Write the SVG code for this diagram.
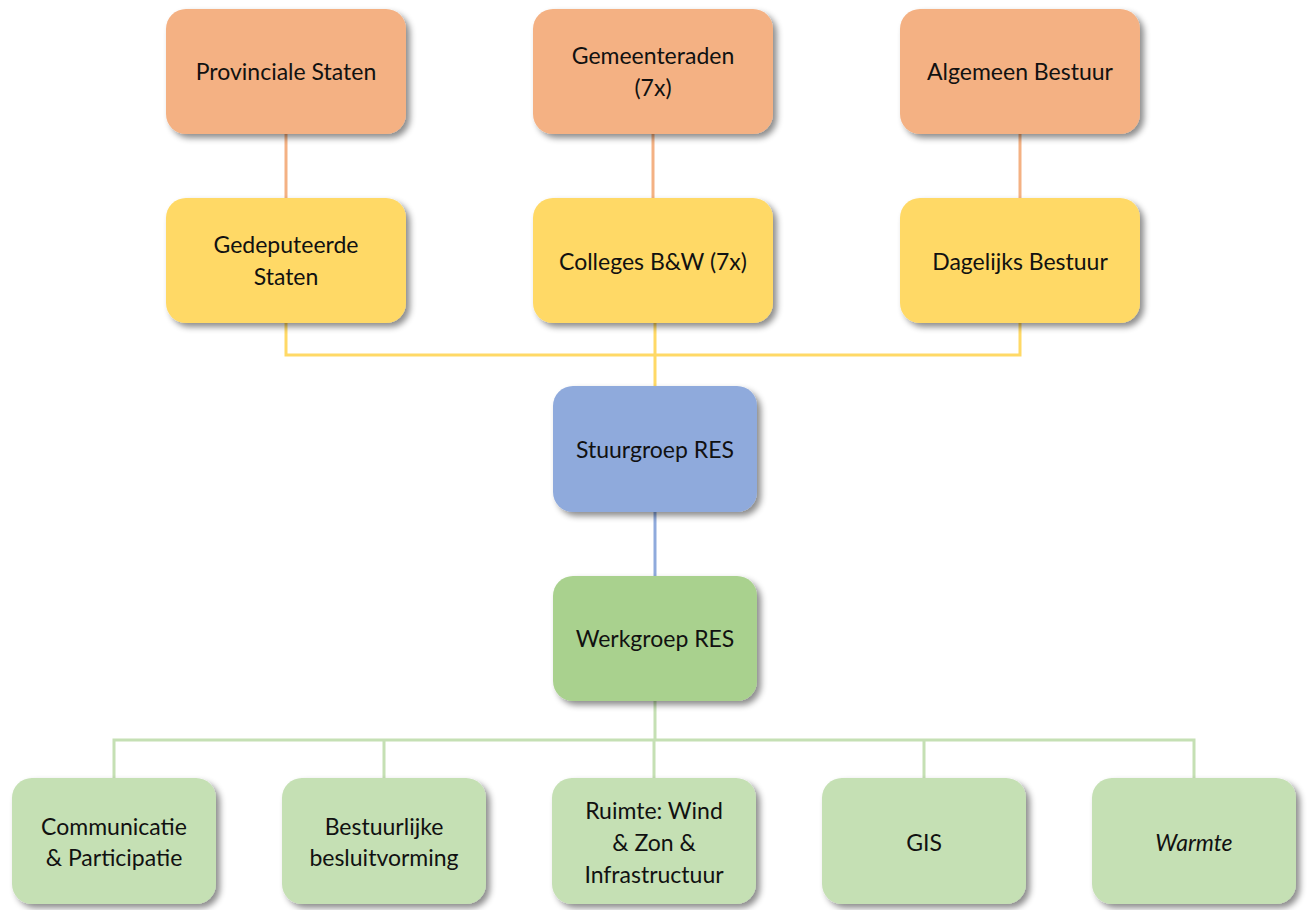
<svg xmlns="http://www.w3.org/2000/svg" width="1313" height="910" viewBox="0 0 1313 910">
<defs>
<filter id="sh" x="-10%" y="-10%" width="130%" height="140%">
<feDropShadow dx="4" dy="4" stdDeviation="3" flood-color="#000" flood-opacity="0.45"/>
</filter>
<style>
.box{filter:url(#sh)}
.o{fill:#F4B183}.y{fill:#FFD966}.b{fill:#8FAADC}.g{fill:#A9D18E}.lg{fill:#C5E0B4}
text{font-family:Lato,"Open Sans","Liberation Sans",sans-serif;font-size:23px;fill:#111;text-anchor:middle;dominant-baseline:central}
.c{fill:none;stroke-width:3}
</style>
</defs>
<rect width="1313" height="910" fill="#fff"/>
<g id="connectors">
<path class="c" stroke="#F4B183" d="M286 134V198M653 134V198M1020 134V198"/>
<path class="c" stroke="#FFD966" d="M286 323V355H1020V323M655 323V387"/>
<path class="c" stroke="#8FAADC" d="M655 512V576"/>
<path class="c" stroke="#C5E0B4" d="M655 701V740M114 779V740H1194V779M384 740V779M654 740V779M924 740V779"/>
</g>
<g id="provinciale-staten"><rect class="box o" x="166" y="9" width="240" height="125" rx="20"/><text x="286" y="71">Provinciale Staten</text></g>
<g id="gemeenteraden"><rect class="box o" x="533" y="9" width="240" height="125" rx="20"/><text x="653" y="55">Gemeenteraden</text><text x="653" y="87">(7x)</text></g>
<g id="algemeen-bestuur"><rect class="box o" x="900" y="9" width="240" height="125" rx="20"/><text x="1020" y="71">Algemeen Bestuur</text></g>
<g id="gedeputeerde-staten"><rect class="box y" x="166" y="198" width="240" height="125" rx="20"/><text x="286" y="244">Gedeputeerde</text><text x="286" y="276">Staten</text></g>
<g id="colleges"><rect class="box y" x="533" y="198" width="240" height="125" rx="20"/><text x="653" y="261">Colleges B&amp;W (7x)</text></g>
<g id="dagelijks-bestuur"><rect class="box y" x="900" y="198" width="240" height="125" rx="20"/><text x="1020" y="261">Dagelijks Bestuur</text></g>
<g id="stuurgroep"><rect class="box b" x="553" y="386" width="204" height="126" rx="20"/><text x="655" y="449">Stuurgroep RES</text></g>
<g id="werkgroep"><rect class="box g" x="553" y="576" width="204" height="125" rx="20"/><text x="655" y="638">Werkgroep RES</text></g>
<g id="communicatie"><rect class="box lg" x="12" y="778" width="204" height="126" rx="20"/><text x="114" y="826">Communicatie</text><text x="114" y="857">&amp; Participatie</text></g>
<g id="bestuurlijke"><rect class="box lg" x="282" y="778" width="204" height="126" rx="20"/><text x="384" y="826">Bestuurlijke</text><text x="384" y="857">besluitvorming</text></g>
<g id="ruimte"><rect class="box lg" x="552" y="778" width="204" height="126" rx="20"/><text x="654" y="810">Ruimte: Wind</text><text x="654" y="842">&amp; Zon &amp;</text><text x="654" y="874">Infrastructuur</text></g>
<g id="gis"><rect class="box lg" x="822" y="778" width="204" height="126" rx="20"/><text x="924" y="842">GIS</text></g>
<g id="warmte"><rect class="box lg" x="1092" y="778" width="204" height="126" rx="20"/><text x="1194" y="842" font-style="italic">Warmte</text></g>
</svg>
